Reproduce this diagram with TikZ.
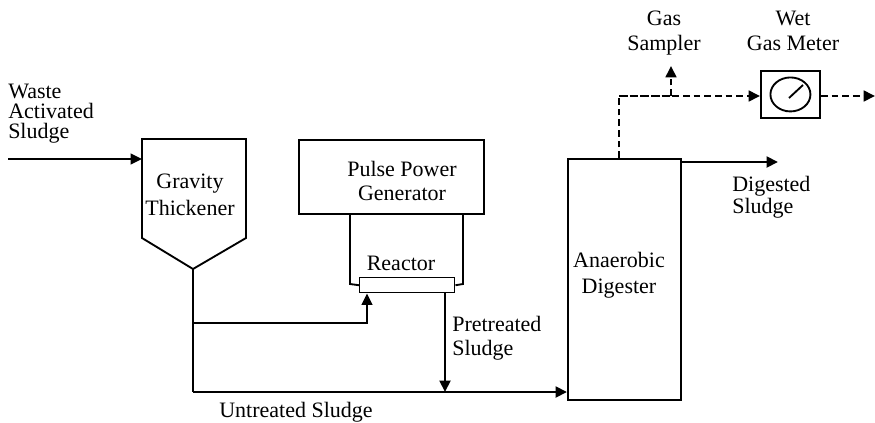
\documentclass[tikz,border=0pt]{standalone}
\usepackage{fontspec}
\setmainfont{Liberation Serif}
\usetikzlibrary{arrows.meta}
\newcommand{\lblfont}[1]{\fontsize{16.5}{#1}\selectfont}
\begin{document}
\begin{tikzpicture}[x=0.75pt,y=-0.75pt,
  lbl/.style={inner sep=0pt, anchor=base},
  ln/.style={line width=1.4pt},
  thk/.style={line width=2.2pt},
  arr/.style={-{Triangle[length=8.5pt,width=8pt]}},
  dsh/.style={line width=1.9pt, dash pattern=on 5pt off 3pt}]
\useasboundingbox (0,0) rectangle (875,422);
% texts (anchor at the baseline of the last line)
\node[lbl, anchor=base west, align=left, font=\lblfont{15}] (was) at (8,138) {Waste\\Activated\\Sludge};
\node[lbl, align=center, font=\lblfont{20}] (gtt) at (190,215) {Gravity\\Thickener};
\node[lbl, align=center, font=\lblfont{17.3}] (ppt) at (402,200) {Pulse Power\\Generator};
\node[lbl, font=\lblfont{17}] (rct) at (401,270) {Reactor};
\node[lbl, anchor=base west, align=left, font=\lblfont{17.3}] (prt) at (452,355) {Pretreated\\Sludge};
\node[lbl, font=\lblfont{17}] (unt) at (296,417) {Untreated Sludge};
\node[lbl, align=center, font=\lblfont{19.5}] (adt) at (619,293) {Anaerobic\\Digester};
\node[lbl, anchor=base west, align=left, font=\lblfont{16.5}] (dst) at (732,213) {Digested\\Sludge};
\node[lbl, align=center, font=\lblfont{18.75}] (gst) at (664,50) {Gas\\Sampler};
\node[lbl, align=center, font=\lblfont{18.75}] (wgt) at (793,50) {Wet\\Gas Meter};
% gravity thickener
\draw[ln] (142,139) -- (246,139) -- (246,238) -- (193,269) -- (142,238) -- cycle;
\coordinate (gtl) at (142,159);
\coordinate (gtb) at (193,269);
\coordinate (win) at (8,159);
\draw[ln, arr] (win) -- (gtl);
% pulse power generator
\node[draw, ln, minimum width=185*0.75pt, minimum height=74*0.75pt, anchor=north west, inner sep=0pt] (ppg) at (298,139) {};
% reactor
\node[draw, line width=1.1pt, fill=white, minimum width=95*0.75pt, minimum height=15*0.75pt, anchor=north west, inner sep=0pt] (rea) at (359,277) {};
\draw[ln] (ppg.south -| 350,0) -- (350,284) -- (rea.west);
\draw[ln] (ppg.south -| 463,0) -- (463,284) -- (rea.east);
% digester
\node[draw, ln, minimum width=113*0.75pt, minimum height=241*0.75pt, anchor=north west, inner sep=0pt] (dig) at (567,158) {};
% sludge flow
\coordinate (br) at (193,323);
\coordinate (bl) at (193,392);
\draw[ln] (gtb) -- (br);
\draw[thk] (br) -- (bl);
\draw[ln, arr] (br) -- (367,323) -- (rea.south -| 367,0);
\draw[thk, arr] (bl) -- (bl -| dig.west);
\draw[thk, arr] (rea.south -| 445,0) -- (445,392);
% digested sludge
\draw[thk, arr] (dig.north east |- 0,162) -- (778,162);
% gas
\node[draw, ln, minimum width=59*0.75pt, minimum height=47*0.75pt, anchor=north west, inner sep=0pt] (wgm) at (760,70) {};
\draw[ln] (wgm.center) ellipse [x radius=20, y radius=17];
\draw[ln] (789,98) -- (803,85);
\coordinate (gc) at (619,96);
\draw[dsh] (dig.north -| 619,0) -- (gc) -- (671,96);
\draw[dsh, arr] (gc) -- (wgm.west |- gc);
\draw[dsh, arr] (671,96) -- (671,66);
\draw[dsh, arr] (wgm.east |- gc) -- (875,96);
\end{tikzpicture}
\end{document}
